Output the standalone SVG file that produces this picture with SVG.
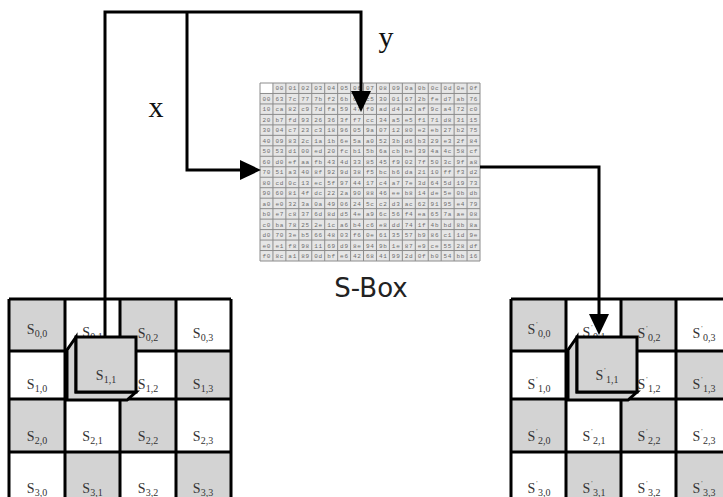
<svg xmlns="http://www.w3.org/2000/svg" width="723" height="497" viewBox="0 0 723 497">
<style>
.bg{fill:#ffffff}
.cellg{fill:#d3d3d3}
.grid{fill:none;stroke:#000;stroke-width:3}
.lbl{font-family:"Liberation Serif",serif;font-size:14px;fill:#333;text-anchor:middle}
.sub{font-size:10px}
.pr{font-size:7px}
.conn{fill:none;stroke:#000;stroke-width:3;stroke-linejoin:miter}
.cube{fill:#d3d3d3;stroke:#000;stroke-width:3;stroke-linejoin:miter}
.sbfill{fill:#e6e6e6}
.sbgrid{fill:none;stroke:#8c8c8c;stroke-width:1}
.sbt{font-family:"Liberation Mono",monospace;font-size:6px;fill:#6e6e6e;letter-spacing:0.71px}
.big{font-family:"Liberation Serif",serif;font-size:30px;fill:#111;text-anchor:middle}
.title{font-family:"DejaVu Sans",sans-serif;font-size:26px;fill:#222;text-anchor:middle}
</style>
<defs>
<marker id="ah" markerUnits="userSpaceOnUse" markerWidth="21" markerHeight="20" refX="0" refY="10" orient="auto">
<path d="M0,0 L21,10 L0,20 z" fill="#000"/>
</marker>
</defs>
<rect class="bg" x="0" y="0" width="723" height="497"/>

<g id="state-left">
<rect class="cellg" x="9" y="299" width="56" height="52"/>
<rect class="cellg" x="120" y="299" width="56" height="52"/>
<rect class="cellg" x="65" y="351" width="55" height="48"/>
<rect class="cellg" x="176" y="351" width="55" height="48"/>
<rect class="cellg" x="9" y="399" width="56" height="53"/>
<rect class="cellg" x="120" y="399" width="56" height="53"/>
<rect class="cellg" x="65" y="452" width="55" height="53"/>
<rect class="cellg" x="176" y="452" width="55" height="53"/>
<path class="grid" d="M9,299H231M9,351H231M9,399H231M9,452H231M9,299V505M65,299V505M120,299V505M176,299V505M231,299V505"/>
<text class="lbl" x="37" y="334">S<tspan class="sub" dy="3">0,0</tspan></text>
<text class="lbl" x="92.5" y="337">S<tspan class="sub" dy="3">0,1</tspan></text>
<text class="lbl" x="148" y="338">S<tspan class="sub" dy="3">0,2</tspan></text>
<text class="lbl" x="203" y="338">S<tspan class="sub" dy="3">0,3</tspan></text>
<text class="lbl" x="37" y="389">S<tspan class="sub" dy="3">1,0</tspan></text>
<text class="lbl" x="148" y="389">S<tspan class="sub" dy="3">1,2</tspan></text>
<text class="lbl" x="203" y="389">S<tspan class="sub" dy="3">1,3</tspan></text>
<text class="lbl" x="37" y="441">S<tspan class="sub" dy="3">2,0</tspan></text>
<text class="lbl" x="92.5" y="441">S<tspan class="sub" dy="3">2,1</tspan></text>
<text class="lbl" x="148" y="441">S<tspan class="sub" dy="3">2,2</tspan></text>
<text class="lbl" x="203" y="441">S<tspan class="sub" dy="3">2,3</tspan></text>
<text class="lbl" x="37" y="493">S<tspan class="sub" dy="3">3,0</tspan></text>
<text class="lbl" x="92.5" y="493">S<tspan class="sub" dy="3">3,1</tspan></text>
<text class="lbl" x="148" y="493">S<tspan class="sub" dy="3">3,2</tspan></text>
<text class="lbl" x="203" y="493">S<tspan class="sub" dy="3">3,3</tspan></text>
</g>

<g id="state-right">
<rect class="cellg" x="511" y="299" width="55" height="52"/>
<rect class="cellg" x="621" y="299" width="55" height="52"/>
<rect class="cellg" x="566" y="351" width="55" height="48"/>
<rect class="cellg" x="676" y="351" width="55" height="48"/>
<rect class="cellg" x="511" y="399" width="55" height="53"/>
<rect class="cellg" x="621" y="399" width="55" height="53"/>
<rect class="cellg" x="566" y="452" width="55" height="53"/>
<rect class="cellg" x="676" y="452" width="55" height="53"/>
<path class="grid" d="M511,299H733M511,351H733M511,399H733M511,452H733M511,299V505M566,299V505M621,299V505M676,299V505M731,299V505"/>
<text class="lbl" x="539" y="334">S<tspan class="pr" dx="1" dy="-8">'</tspan><tspan class="sub" dx="0.5" dy="11">0,0</tspan></text>
<text class="lbl" x="594" y="337">S<tspan class="pr" dx="1" dy="-8">'</tspan><tspan class="sub" dx="0.5" dy="11">0,1</tspan></text>
<text class="lbl" x="649" y="338">S<tspan class="pr" dx="1" dy="-8">'</tspan><tspan class="sub" dx="0.5" dy="11">0,2</tspan></text>
<text class="lbl" x="704" y="338">S<tspan class="pr" dx="1" dy="-8">'</tspan><tspan class="sub" dx="0.5" dy="11">0,3</tspan></text>
<text class="lbl" x="539" y="389">S<tspan class="pr" dx="1" dy="-8">'</tspan><tspan class="sub" dx="0.5" dy="11">1,0</tspan></text>
<text class="lbl" x="649" y="389">S<tspan class="pr" dx="1" dy="-8">'</tspan><tspan class="sub" dx="0.5" dy="11">1,2</tspan></text>
<text class="lbl" x="704" y="389">S<tspan class="pr" dx="1" dy="-8">'</tspan><tspan class="sub" dx="0.5" dy="11">1,3</tspan></text>
<text class="lbl" x="539" y="441">S<tspan class="pr" dx="1" dy="-8">'</tspan><tspan class="sub" dx="0.5" dy="11">2,0</tspan></text>
<text class="lbl" x="594" y="441">S<tspan class="pr" dx="1" dy="-8">'</tspan><tspan class="sub" dx="0.5" dy="11">2,1</tspan></text>
<text class="lbl" x="649" y="441">S<tspan class="pr" dx="1" dy="-8">'</tspan><tspan class="sub" dx="0.5" dy="11">2,2</tspan></text>
<text class="lbl" x="704" y="441">S<tspan class="pr" dx="1" dy="-8">'</tspan><tspan class="sub" dx="0.5" dy="11">2,3</tspan></text>
<text class="lbl" x="539" y="493">S<tspan class="pr" dx="1" dy="-8">'</tspan><tspan class="sub" dx="0.5" dy="11">3,0</tspan></text>
<text class="lbl" x="594" y="493">S<tspan class="pr" dx="1" dy="-8">'</tspan><tspan class="sub" dx="0.5" dy="11">3,1</tspan></text>
<text class="lbl" x="649" y="493">S<tspan class="pr" dx="1" dy="-8">'</tspan><tspan class="sub" dx="0.5" dy="11">3,2</tspan></text>
<text class="lbl" x="704" y="493">S<tspan class="pr" dx="1" dy="-8">'</tspan><tspan class="sub" dx="0.5" dy="11">3,3</tspan></text>
</g>

<g id="sbox">
<rect class="sbfill" x="260" y="83" width="220" height="178"/>
<rect fill="#fff" x="260" y="83" width="12.94" height="10.47"/>
<path class="sbgrid" d="M260,83V261M272.94,83V261M285.88,83V261M298.82,83V261M311.76,83V261M324.71,83V261M337.65,83V261M350.59,83V261M363.53,83V261M376.47,83V261M389.41,83V261M402.35,83V261M415.29,83V261M428.24,83V261M441.18,83V261M454.12,83V261M467.06,83V261M480,83V261M260,83H480M260,93.47H480M260,103.94H480M260,114.41H480M260,124.88H480M260,135.35H480M260,145.82H480M260,156.29H480M260,166.76H480M260,177.24H480M260,187.71H480M260,198.18H480M260,208.65H480M260,219.12H480M260,229.59H480M260,240.06H480M260,250.53H480M260,261H480"/>
<text class="sbt" x="275.5" y="90.4">00 01 02 03 04 05 06 07 08 09 0a 0b 0c 0d 0e 0f</text>
<text class="sbt" x="262.5" y="100.9">00 63 7c 77 7b f2 6b 6f c5 30 01 67 2b fe d7 ab 76</text>
<text class="sbt" x="262.5" y="111.3">10 ca 82 c9 7d fa 59 47 f0 ad d4 a2 af 9c a4 72 c0</text>
<text class="sbt" x="262.5" y="121.8">20 b7 fd 93 26 36 3f f7 cc 34 a5 e5 f1 71 d8 31 15</text>
<text class="sbt" x="262.5" y="132.3">30 04 c7 23 c3 18 96 05 9a 07 12 80 e2 eb 27 b2 75</text>
<text class="sbt" x="262.5" y="142.8">40 09 83 2c 1a 1b 6e 5a a0 52 3b d6 b3 29 e3 2f 84</text>
<text class="sbt" x="262.5" y="153.2">50 53 d1 00 ed 20 fc b1 5b 6a cb be 39 4a 4c 58 cf</text>
<text class="sbt" x="262.5" y="163.7">60 d0 ef aa fb 43 4d 33 85 45 f9 02 7f 50 3c 9f a8</text>
<text class="sbt" x="262.5" y="174.2">70 51 a3 40 8f 92 9d 38 f5 bc b6 da 21 10 ff f3 d2</text>
<text class="sbt" x="262.5" y="184.6">80 cd 0c 13 ec 5f 97 44 17 c4 a7 7e 3d 64 5d 19 73</text>
<text class="sbt" x="262.5" y="195.1">90 60 81 4f dc 22 2a 90 88 46 ee b8 14 de 5e 0b db</text>
<text class="sbt" x="262.5" y="205.6">a0 e0 32 3a 0a 49 06 24 5c c2 d3 ac 62 91 95 e4 79</text>
<text class="sbt" x="262.5" y="216.0">b0 e7 c8 37 6d 8d d5 4e a9 6c 56 f4 ea 65 7a ae 08</text>
<text class="sbt" x="262.5" y="226.5">c0 ba 78 25 2e 1c a6 b4 c6 e8 dd 74 1f 4b bd 8b 8a</text>
<text class="sbt" x="262.5" y="237.0">d0 70 3e b5 66 48 03 f6 0e 61 35 57 b9 86 c1 1d 9e</text>
<text class="sbt" x="262.5" y="247.5">e0 e1 f8 98 11 69 d9 8e 94 9b 1e 87 e9 ce 55 28 df</text>
<text class="sbt" x="262.5" y="257.9">f0 8c a1 89 0d bf e6 42 68 41 99 2d 0f b0 54 bb 16</text>
<text class="title" x="371" y="297">S-Box</text>
</g>

<g id="labels">
<text class="big" x="156" y="117">x</text>
<text class="big" x="386" y="47">y</text>
</g>

<g id="connectors">
<path class="conn" d="M105,337V12H361V91" marker-end="url(#ah)"/>
<path class="conn" d="M187,12V170H240" marker-end="url(#ah)"/>
<path class="conn" d="M480,167H599V314" marker-end="url(#ah)"/>
</g>

<g id="cube-left">
<path class="cube" d="M76,337L67,350V400H127L136,392H76Z"/>
<rect class="cube" x="76" y="337" width="60" height="55"/>
<text class="lbl" x="106" y="380">S<tspan class="sub" dy="3">1,1</tspan></text>
</g>

<g id="cube-right">
<path class="cube" d="M577,337L568,350V400H628L637,392H577Z"/>
<rect class="cube" x="577" y="337" width="60" height="55"/>
<text class="lbl" x="607" y="380">S<tspan class="pr" dx="1" dy="-8">'</tspan><tspan class="sub" dx="0.5" dy="11">1,1</tspan></text>
</g>
</svg>
